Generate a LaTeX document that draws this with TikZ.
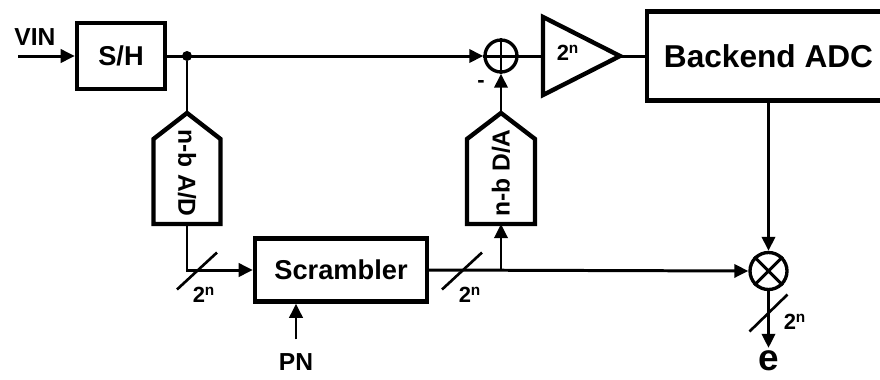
\documentclass[tikz,border=0pt]{standalone}
\usepackage{fontspec}
\setmainfont{Liberation Sans}
\usetikzlibrary{arrows.meta, positioning, calc}

\begin{document}
\begin{tikzpicture}[
    every node/.style={font=\bfseries},
    wire/.style={line width=1.7pt},
    arr/.style={wire, -{Triangle[length=8pt, width=7.5pt]}},
    blk/.style={draw, line width=2.5pt, inner sep=0pt, anchor=center},
    op/.style={draw, circle, line width=1.9pt, inner sep=0pt},
    bus/.style={line width=1.5pt},
    lblbig/.style={font=\bfseries\fontsize{18}{20}\selectfont},
    lblmid/.style={font=\bfseries\fontsize{15.5}{18}\selectfont},
    lbl/.style={font=\bfseries\fontsize{14}{16}\selectfont},
    lblsm/.style={font=\bfseries\fontsize{12.5}{14}\selectfont}
]
\useasboundingbox (0,0) rectangle (17.6,-7.58);
\clip (0,0) rectangle (17.6,-7.58);

% Front end
\node[lbl] (vin) at (0.70,-0.74) {VIN};
\coordinate (vin_in) at (0.36,-1.12);
\node[blk, lblmid, minimum width=1.76cm, minimum height=1.32cm] (sh) at (2.42,-1.12) {S/H};
\node[circle, fill, inner sep=0pt, minimum size=0.2cm] (tap) at (3.74,-1.12) {};

% Sum, gain and backend
\node[op, minimum size=0.64cm] (sum) at (10.02,-1.12) {};
\draw[wire] (sum.north) -- (sum.south) (sum.west) -- (sum.east);
\node[lblsm] (minus) at (9.62,-1.68) {-};
\coordinate (amp_in) at (10.86,-1.12);
\coordinate (amp_out) at (12.40,-1.12);
\draw[blk] (10.86,-0.34) -- (10.86,-1.90) -- (amp_out) -- cycle;
\node[lblsm] (gain) at (11.36,-1.06) {2\textsuperscript{n}};
\node[blk, lblbig, minimum width=4.86cm, minimum height=1.78cm] (adc) at (15.37,-1.12) {Backend ADC};

% Coarse A/D and D/A
\draw[blk] (3.07,-4.48) -- (3.07,-2.78) -- (3.74,-2.26) -- (4.41,-2.78) -- (4.41,-4.48) -- cycle;
\node[lbl, rotate=-90] (ad) at (3.74,-3.46) {n-b A/D};
\coordinate (ad_in) at (3.74,-2.26);
\coordinate (ad_out) at (3.74,-4.48);
\draw[blk] (9.34,-4.48) -- (9.34,-2.78) -- (10.02,-2.26) -- (10.70,-2.78) -- (10.70,-4.48) -- cycle;
\node[lbl, rotate=90] (da) at (10.02,-3.46) {n-b D/A};
\coordinate (da_out) at (10.02,-2.26);
\coordinate (da_in) at (10.02,-4.48);

% Scrambler and error output
\node[blk, lblmid, minimum width=3.44cm, minimum height=1.26cm] (scr) at (6.82,-5.40) {Scrambler};
\node[lbl] (pn) at (5.92,-7.24) {PN};
\node[op, minimum size=0.74cm] (mult) at (15.37,-5.42) {};
\draw[wire] (mult.north east) -- (mult.south west) (mult.north west) -- (mult.south east);
\node[font=\bfseries\fontsize{21}{24}\selectfont, inner sep=1.5pt] (e) at (15.37,-7.22) {e};
\coordinate (bus_tap) at (10.02,-5.42);

% Connections
\draw[arr] (vin_in) -- (sh.west);
\draw[arr] (sh.east) -- (sum.west);
\draw[wire] (tap) -- (ad_in);
\draw[wire] (sum.east) -- (amp_in);
\draw[wire] (amp_out) -- (adc.west);
\draw[arr] (ad_out) |- (scr.west);
\draw[arr] (scr.east) -- (mult.west);
\draw[arr] (bus_tap) -- (da_in);
\draw[arr] (da_out) -- (sum.south);
\draw[arr] (pn.north) ++(0,0.16) -- (pn.north |- scr.south);
\draw[arr] (adc.south -| mult) -- (mult.north);
\draw[arr] (mult.south) -- (e.north);

% Bus width marks
\draw[bus] (3.54,-5.79) -- (4.34,-5.05);
\node[lblsm] (w1) at (4.08,-5.90) {2\textsuperscript{n}};
\draw[bus] (8.84,-5.79) -- (9.64,-5.05);
\node[lblsm] (w2) at (9.40,-5.90) {2\textsuperscript{n}};
\draw[bus] (14.99,-6.63) -- (15.75,-5.89);
\node[lblsm] (w3) at (15.90,-6.44) {2\textsuperscript{n}};
\end{tikzpicture}
\end{document}
